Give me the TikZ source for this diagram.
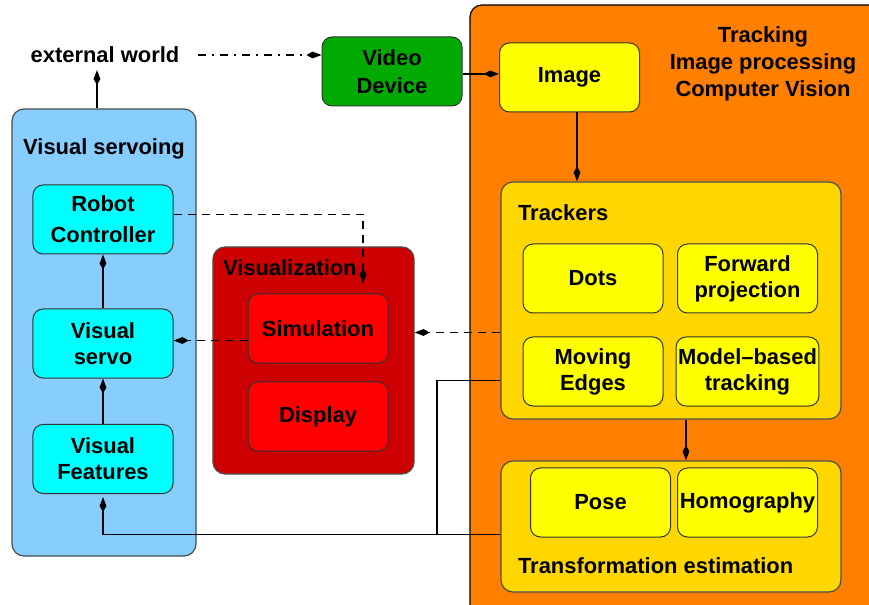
\documentclass[tikz,border=0pt]{standalone}
\usepackage{fontspec}
\setmainfont{Liberation Sans}
\usepackage{xcolor}
\usepackage{tikz}
\usetikzlibrary{arrows.meta,calc}
\definecolor{skyblue}{RGB}{135,206,255}
\definecolor{boxcyan}{RGB}{0,255,255}
\definecolor{boxyellow}{RGB}{255,255,0}
\definecolor{boxred}{RGB}{255,0,0}
\definecolor{vdgreen}{RGB}{0,170,0}
\definecolor{darkred}{RGB}{204,0,0}
\definecolor{trackorange}{RGB}{255,128,0}
\definecolor{gold}{RGB}{255,215,0}

\begin{document}
\begin{tikzpicture}[x=0.5bp, y=-0.5bp,
    every node/.style={font=\bfseries\fontsize{11}{13}\selectfont},
    box/.style={draw=black!80, line width=0.5bp, rounded corners=5bp, align=center,
                minimum width=70bp, minimum height=34.5bp, inner sep=1bp},
    group/.style={draw=black!70, line width=0.6bp, rounded corners=6bp, minimum width=170bp},
    tip/.style={line width=0.7bp, -{Kite[length=7.5bp, width=3.4bp, inset=3bp]}},
    link/.style={line width=0.7bp}]
    \useasboundingbox (0, 0) rectangle (869, 605);
    % tracking side
    \draw [fill=trackorange, line width=0.6bp, rounded corners=6bp] (470, 5) rectangle (900, 640);
    \node [align=center, font=\bfseries\fontsize{11}{13.5}\selectfont] (ttl) at (763, 64) {Tracking\\Image processing\\Computer Vision};
    \node [box, fill=boxyellow] (img) at (569.5, 77.5) {Image};
    \node [group, fill=gold, minimum height=118.5bp] (trk) at (671, 300.5) {};
    \node [anchor=west] (trklbl) at (511, 213) {Trackers};
    \node [box, fill=boxyellow] (dots) at (593, 278.5) {Dots};
    \node [box, fill=boxyellow] (fwd) at (747.5, 278.5) {Forward\\projection};
    \node [box, fill=boxyellow] (me) at (593, 371.5) {Moving\\Edges};
    \node [box, fill=boxyellow] (mbt) at (747.5, 371.5) {Model--based\\tracking};
    \node [group, fill=gold, minimum height=65.5bp] (te) at (671, 526.5) {};
    \node [anchor=west] (telbl) at (511, 566) {Transformation estimation};
    \node [box, fill=boxyellow] (pose) at (600.5, 502.5) {Pose};
    \node [box, fill=boxyellow] (hom) at (747.5, 502.5) {Homography};
    % visual servoing side
    \node [group, fill=skyblue, minimum width=92bp, minimum height=223.5bp] (vsc) at (104, 332.5) {};
    \node (vslbl) at (104, 149) {Visual servoing};
    \node [box, fill=boxcyan, font=\bfseries\fontsize{11}{15.5}\selectfont] (rc) at (103, 219.5) {Robot\\Controller};
    \node [box, fill=boxcyan] (vsv) at (103, 343.5) {Visual\\servo};
    \node [box, fill=boxcyan] (vf) at (103, 459) {Visual\\Features};
    % visualization
    \node [group, fill=darkred, minimum width=100.5bp, minimum height=113.5bp] (vis) at (313.5, 360.5) {};
    \node [anchor=west] (vislbl) at (216, 268) {Visualization};
    \node [box, fill=boxred] (sim) at (318, 328.5) {Simulation};
    \node [box, fill=boxred] (disp) at (318, 416.5) {Display};
    % input
    \node (ext) at (105, 55) {external world};
    \node [box, fill=vdgreen, font=\bfseries\fontsize{11}{14}\selectfont] (vd) at (392, 71.5) {Video\\Device};
    \coordinate (jn) at (437, 534.5);

    \draw [tip, dash pattern=on 4bp off 3bp on 1bp off 3bp, shorten <=6bp] (ext.east) -- (ext.east -| vd.west);
    \draw [tip] ([yshift=-1.2bp]vd.east) -- ([yshift=-1.2bp]vd.east -| img.west);
    \draw [tip] ([xshift=3.75bp]img.south) -- ([xshift=3.75bp]img.south |- trk.north);
    \draw [tip] ([xshift=7.5bp]trk.south) -- ([xshift=7.5bp]trk.south |- te.north);
    \draw [tip] ([xshift=-3.5bp]vsc.north) -- ([xshift=-3.5bp]vsc.north |- ext.south);
    \draw [tip] (vsv.north) -- (rc.south);
    \draw [tip] (vf.north) -- (vsv.south);
    \draw [tip, dash pattern=on 4bp off 3bp, shorten >=5bp] ([yshift=2.5bp]rc.east) -| ([xshift=22.5bp]sim.north);
    \draw [tip, dash pattern=on 4bp off 3bp] ([yshift=-16bp]trk.west) -- ([yshift=-16bp]trk.west -| vis.east);
    \draw [tip, dash pattern=on 4bp off 3bp] ([yshift=1.5bp]sim.west |- vsv.east) -- ([yshift=1.5bp]vsv.east);
    \draw [tip] ([yshift=-4bp]te.west) -| ([yshift=-1.5bp]vf.south);
    \draw [link] ([yshift=-40bp]trk.west) -| (jn);
\end{tikzpicture}
\end{document}
